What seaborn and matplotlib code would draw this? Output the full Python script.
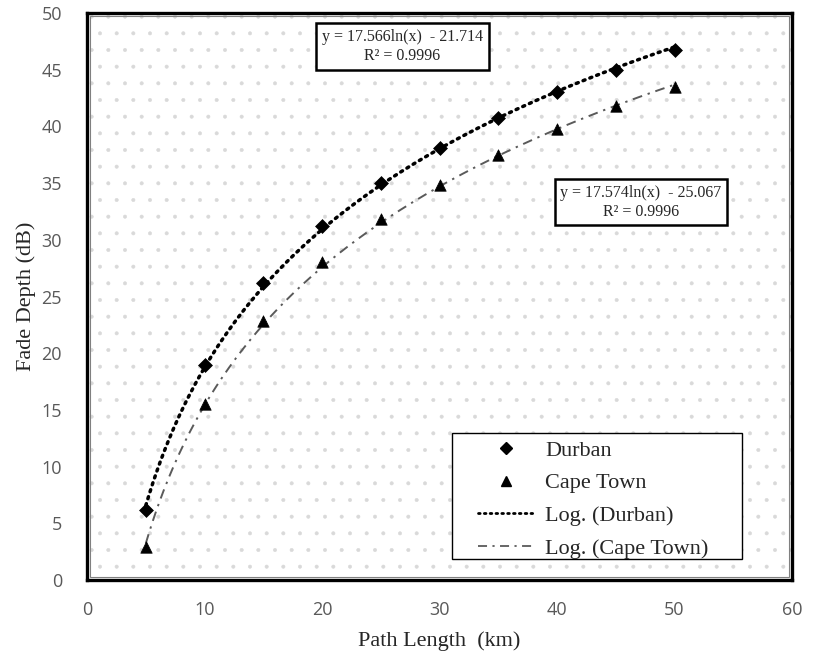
import numpy as np
import pandas as pd
import seaborn as sns
import matplotlib
matplotlib.use("Agg")
import matplotlib.pyplot as plt
from matplotlib.patches import Rectangle
from matplotlib.lines import Line2D

# Measured fade depth versus path length
path_length = [5, 10, 15, 20, 25, 30, 35, 40, 45, 50]
durban = [6.2, 19.0, 26.2, 31.2, 35.0, 38.1, 40.7, 43.0, 45.0, 46.7]
cape_town = [2.9, 15.5, 22.8, 28.0, 31.8, 34.8, 37.5, 39.8, 41.8, 43.5]

# Logarithmic trendline coefficients  y = a ln(x) + b
durban_fit = (17.566, -21.714, 0.9996)
cape_fit = (17.574, -25.067, 0.9996)

x_ticks = [0, 10, 20, 30, 40, 50, 60]
y_ticks = [0, 5, 10, 15, 20, 25, 30, 35, 40, 45, 50]

sns.set_theme(style="white")
plt.rcParams["font.family"] = ["Liberation Serif", "DejaVu Serif"]
plt.rcParams["hatch.linewidth"] = 0.4

fig = plt.figure(figsize=(8.24, 6.6), dpi=100)
ax = fig.add_axes([0.1056, 0.1212, 0.8556, 0.8591])

# light dotted plot-area fill
ax.add_patch(Rectangle((0, 0), 1, 1, transform=ax.transAxes, facecolor="white",
                       edgecolor="#d9d9d9", hatch=".", linewidth=0, zorder=0))

pts = pd.DataFrame({"x": path_length, "Durban": durban, "Cape Town": cape_town})

xs = np.linspace(min(path_length), max(path_length), 300)
curves = pd.DataFrame({
    "x": xs,
    "durban": durban_fit[0] * np.log(xs) + durban_fit[1],
    "cape": cape_fit[0] * np.log(xs) + cape_fit[1],
})

dot_style = (0, (0.6, 1.5))
dashdot_style = (0, (5, 3, 1.2, 3))

sns.lineplot(data=curves, x="x", y="durban", ax=ax, color="black", lw=2.5,
             linestyle=dot_style, dash_capstyle="round", zorder=2)
sns.lineplot(data=curves, x="x", y="cape", ax=ax, color="#5a5a5a", lw=1.4,
             linestyle=dashdot_style, zorder=2)
sns.scatterplot(data=pts, x="x", y="Durban", ax=ax, marker="D", s=50,
                color="black", edgecolor="black", linewidth=0.5, zorder=3)
sns.scatterplot(data=pts, x="x", y="Cape Town", ax=ax, marker="^", s=68,
                color="black", edgecolor="black", linewidth=0.5, zorder=3)

ax.set_xlim(0, 60)
ax.set_ylim(0, 50)
ax.set_xticks(x_ticks)
ax.set_yticks(y_ticks)
ax.tick_params(axis="both", length=0, labelsize=13, labelcolor="#595959")
ax.tick_params(axis="x", pad=15)
ax.tick_params(axis="y", pad=18)
for lab in ax.get_xticklabels() + ax.get_yticklabels():
    lab.set_fontfamily(["Open Sans", "DejaVu Sans"])

ax.set_xlabel("Path Length  (km)", fontsize=16, color="#262626", labelpad=9)
ax.set_ylabel("Fade Depth (dB)", fontsize=16, color="#262626", labelpad=4)

# double frame: heavy outer line with a thin grey inner line
for sp in ax.spines.values():
    sp.set_visible(True)
    sp.set_color("black")
    sp.set_linewidth(2.4)
ax.add_patch(Rectangle((0.0045, 0.0055), 1 - 0.009, 1 - 0.011, transform=ax.transAxes,
                       fill=False, edgecolor="#808080", linewidth=0.8, zorder=4))

box = dict(boxstyle="square,pad=0.35", facecolor="white", edgecolor="black", linewidth=1.8)
ax.text(26.85, 47.05,
        f"y = {durban_fit[0]:.3f}ln(x)  - {abs(durban_fit[1]):.3f}\nR\u00b2 = {durban_fit[2]:.4f}",
        ha="center", va="center", fontsize=11.5, linespacing=1.25, bbox=box, zorder=5)
ax.text(47.15, 33.3,
        f"y = {cape_fit[0]:.3f}ln(x)  - {abs(cape_fit[1]):.3f}\nR\u00b2 = {cape_fit[2]:.4f}",
        ha="center", va="center", fontsize=11.5, linespacing=1.25, bbox=box, zorder=5)

# legend frame and entries
ax.add_patch(Rectangle((0.518, 0.037), 0.411, 0.222, transform=ax.transAxes,
                       facecolor="white", edgecolor="black", linewidth=1.0, zorder=5))
handles = [
    Line2D([], [], color="black", marker="D", linestyle="none", markersize=6),
    Line2D([], [], color="black", marker="^", linestyle="none", markersize=7.5),
    Line2D([], [], color="black", lw=2.0, linestyle=dot_style, dash_capstyle="round"),
    Line2D([], [], color="#5a5a5a", lw=1.3, linestyle=dashdot_style),
]
labels = ["Durban", "Cape Town", "Log. (Durban)", "Log. (Cape Town)"]
leg = ax.legend(handles, labels, loc="upper left", bbox_to_anchor=(0.555, 0.247),
                fontsize=16, frameon=False, handlelength=2.5, handletextpad=0.5,
                labelspacing=0.55, borderpad=0.0, borderaxespad=0)
leg.set_zorder(6)

fig.savefig("out.png", dpi=100)
